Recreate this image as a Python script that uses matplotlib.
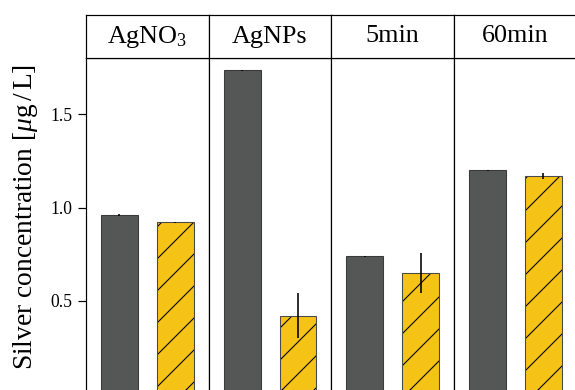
import matplotlib
matplotlib.use("Agg")
from matplotlib import pyplot as plt

groups = ["AgNO$_3$", "AgNPs", "5min", "60min"]
dark_vals = [0.96, 1.735, 0.74, 1.20]
dark_err = [0.003, 0.003, 0.003, 0.003]
yellow_vals = [0.92, 0.42, 0.652, 1.167]
yellow_err = [0.003, 0.12, 0.107, 0.016]

DPI = 192
plt.rcParams["font.family"] = ["Liberation Serif", "DejaVu Serif"]
plt.rcParams["mathtext.fontset"] = "custom"
plt.rcParams["mathtext.rm"] = "Liberation Serif"
plt.rcParams["mathtext.it"] = "Liberation Serif:italic"
plt.rcParams["hatch.linewidth"] = 0.4

W, H = 575, 390
fig = plt.figure(figsize=(W / DPI, H / DPI), dpi=DPI)

left_px = 86
panel_w = 122.7
ax_top = 58
ax_bot = 394.4
strip_top = 15

dark_col = "#555756"
yellow_col = "#F5C216"

for i, g in enumerate(groups):
    x0 = (left_px + i * panel_w) / W
    ax = fig.add_axes([x0, (H - ax_bot) / H, panel_w / W, (ax_bot - ax_top) / H])
    ax.bar(0, dark_vals[i], width=0.66, color=dark_col, edgecolor="#3a3a3a", linewidth=0.4)
    ax.bar(1, yellow_vals[i], width=0.66, color=yellow_col, edgecolor="black", hatch="//", linewidth=0)
    ax.bar(1, yellow_vals[i], width=0.66, fill=False, edgecolor="#4a4a4a", linewidth=0.4)
    ax.errorbar([0, 1], [dark_vals[i], yellow_vals[i]], yerr=[dark_err[i], yellow_err[i]],
                fmt="none", ecolor="black", elinewidth=0.6, capsize=0)
    ax.set_xlim(-0.6, 1.6)
    ax.set_ylim(0, 1.8)
    ax.set_xticks([])
    for s in ax.spines.values():
        s.set_linewidth(0.45)
    if i == 0:
        ax.set_yticks([0.5, 1.0, 1.5])
        ax.tick_params(axis="y", labelsize=6.6, length=3, width=0.45, pad=2)
        ax.set_ylabel("Silver concentration [$\\mu$g$\\,$/$\\,$L]", fontsize=10.3)
        ax.yaxis.set_label_coords(-0.375, 0.526)
    else:
        ax.set_yticks([])

    sax = fig.add_axes([x0, (H - ax_top) / H, panel_w / W, (ax_top - strip_top) / H])
    sax.set_xticks([])
    sax.set_yticks([])
    for s in sax.spines.values():
        s.set_linewidth(0.45)
    sax.text(0.5, 0.5, g, ha="center", va="center", fontsize=9.8, transform=sax.transAxes)

fig.savefig("out.png", dpi=DPI)
